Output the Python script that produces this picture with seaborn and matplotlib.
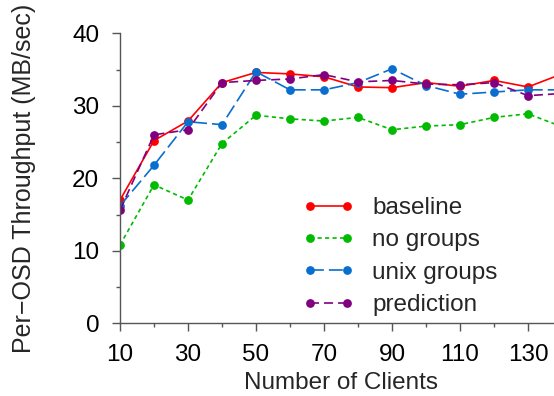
import pandas as pd
import matplotlib
matplotlib.use("Agg")
import matplotlib.pyplot as plt
from matplotlib.legend_handler import HandlerLine2D
from matplotlib.ticker import MultipleLocator
import seaborn as sns

clients = [10, 20, 30, 40, 50, 60, 70, 80, 90, 100, 110, 120, 130, 140]
baseline = [17.0, 25.2, 27.9, 33.2, 34.6, 34.4, 34.0, 32.6, 32.5, 33.2, 32.7, 33.5, 32.6, 34.4]
no_groups = [10.8, 19.1, 17.0, 24.8, 28.7, 28.2, 27.9, 28.4, 26.7, 27.2, 27.4, 28.4, 28.9, 27.1]
unix_groups = [16.2, 21.8, 27.8, 27.4, 34.7, 32.2, 32.2, 33.2, 35.1, 32.8, 31.6, 31.9, 32.2, 32.2]
prediction = [15.6, 26.0, 26.7, 33.2, 33.5, 33.7, 34.3, 33.3, 33.5, 33.0, 32.9, 33.2, 31.4, 31.7]
series_names = ["baseline", "no groups", "unix groups", "prediction"]

df = pd.DataFrame({"clients": clients, "baseline": baseline, "no groups": no_groups,
                   "unix groups": unix_groups, "prediction": prediction})
long_df = df.melt(id_vars="clients", var_name="series", value_name="throughput")

sns.set_style("ticks")
plt.rcParams["font.family"] = ["Liberation Sans", "DejaVu Sans"]
plt.rcParams["lines.scale_dashes"] = False

colors = {"baseline": "#ff0000", "no groups": "#00bb00",
          "unix groups": "#0a6ecf", "prediction": "#800080"}
dashes = {"baseline": "", "no groups": (3, 2.4),
          "unix groups": (10, 3.6), "prediction": (6.5, 3.6)}

fs = 17.5
fig = plt.figure(figsize=(5.54, 3.96), dpi=100)
ax = fig.add_axes([120 / 554, 1 - 323.3 / 396, (562 - 120) / 554, (323.3 - 33.3) / 396])

sns.lineplot(data=long_df, x="clients", y="throughput", hue="series", style="series",
             hue_order=series_names, style_order=series_names,
             palette=colors, dashes=dashes, markers={k: "o" for k in series_names},
             markersize=6.3, markeredgewidth=0, linewidth=1.2, ax=ax)

ax.set_xlim(10, 140)
ax.set_ylim(0, 40)
ax.set_xticks(range(10, 141, 20))
ax.xaxis.set_minor_locator(MultipleLocator(10))
ax.yaxis.set_major_locator(MultipleLocator(10))
ax.yaxis.set_minor_locator(MultipleLocator(5))
axis_color = "#555555"
for side in ["left", "bottom"]:
    ax.spines[side].set_color(axis_color)
    ax.spines[side].set_linewidth(1.0)
ax.spines["top"].set_visible(False)
ax.spines["right"].set_visible(False)
ax.tick_params(which="major", length=6, width=1.0, color=axis_color, labelsize=fs,
               labelcolor="black", pad=9)
ax.tick_params(which="minor", length=3, width=1.0, color=axis_color)

ax.set_xlabel("Number of Clients", fontsize=fs, labelpad=4.5)
ax.set_ylabel("Per\u2212OSD Throughput (MB/sec)", fontsize=18, labelpad=26)

handles, labels = ax.get_legend_handles_labels()
ax.legend(handles, labels, loc="upper left", bbox_to_anchor=(297 / 554, 1 - 197 / 396),
          bbox_transform=fig.transFigure, frameon=False, fontsize=fs, numpoints=2,
          handlelength=2.6, handletextpad=0.5, labelspacing=0.43,
          borderpad=0, borderaxespad=0,
          handler_map={h: HandlerLine2D(marker_pad=0.55) for h in handles})

fig.savefig("out.png", dpi=100)
